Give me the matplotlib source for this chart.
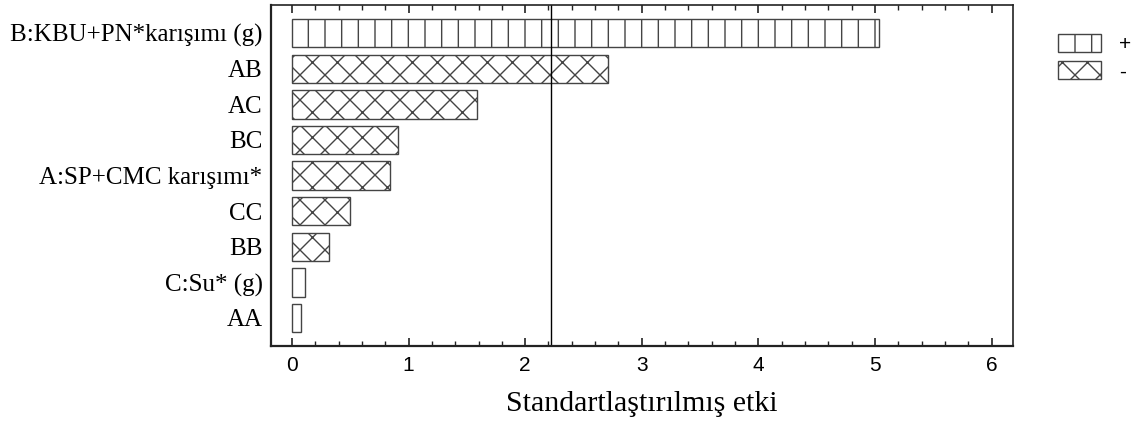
import numpy as np
import matplotlib
matplotlib.use('Agg')
import matplotlib.pyplot as plt
import matplotlib.hatch as mhatch
from matplotlib.patches import Patch
from matplotlib.ticker import MultipleLocator

# Pareto chart of standardized effects
terms = ['B:KBU+PN*karışımı (g)', 'AB', 'AC', 'BC', 'A:SP+CMC karışımı*',
         'CC', 'BB', 'C:Su* (g)', 'AA']
effects = [5.03, 2.71, 1.59, 0.91, 0.84, 0.50, 0.32, 0.11, 0.08]
signs = ['+', '-', '-', '-', '-', '-', '-', '+', '+']
critical = 2.22

hatch_of = {'+': '|', '-': 'x'}

# cross hatch a bit denser than the default (about 4 per inch)
_get_path = mhatch.get_path
def _hatch_path(hatchpattern, density=6):
    if hatchpattern == 'x':
        density = 8
    return _get_path(hatchpattern, density)
mhatch.get_path = _hatch_path

fig = plt.figure(figsize=(11.43, 4.21), dpi=100)
ax = fig.add_axes([0.237, 0.178, 0.649, 0.810])

y = np.arange(len(terms))
for yi, e, s in zip(y, effects, signs):
    ax.barh(yi, e, height=0.8, left=0, color='white', edgecolor='#444444',
            linewidth=1.0, hatch=hatch_of[s])

ax.axvline(critical, color='black', linewidth=1.0)

ax.set_ylim(len(terms) - 0.21, -0.79)
ax.set_xlim(-0.18, 6.18)
ax.set_yticks(y)
ax.set_yticklabels(terms, fontfamily='Liberation Serif', fontsize=18)
ax.tick_params(axis='y', length=0, pad=6)

ax.xaxis.set_major_locator(MultipleLocator(1))
ax.xaxis.set_minor_locator(MultipleLocator(0.2))
ax.tick_params(axis='x', which='both', direction='in', top=True, bottom=True,
               labelsize=15, pad=7, color='#222222')
ax.tick_params(axis='x', which='major', length=6, width=1.2)
ax.tick_params(axis='x', which='minor', length=3.5, width=1.0)
for lab in ax.get_xticklabels():
    lab.set_fontfamily('Liberation Sans')

ax.set_xlabel('Standartlaştırılmış etki', fontfamily='Liberation Serif',
              fontsize=21.5, labelpad=12)

for side in ['left', 'bottom']:
    ax.spines[side].set_linewidth(1.6)
for side in ['top', 'right']:
    ax.spines[side].set_linewidth(1.2)
for sp in ax.spines.values():
    sp.set_color('#222222')

handles = [Patch(facecolor='white', edgecolor='#444444', hatch=hatch_of['+'], label='+'),
           Patch(facecolor='white', edgecolor='#444444', hatch=hatch_of['-'], label='-')]
fig.legend(handles=handles, loc='upper left', bbox_to_anchor=(0.911, 0.958),
           frameon=False, handlelength=2.07, handleheight=0.9, labelspacing=0.35,
           handletextpad=0.85, borderpad=0.3,
           prop={'family': 'Liberation Sans', 'size': 15})

fig.savefig('out.png', dpi=100)
